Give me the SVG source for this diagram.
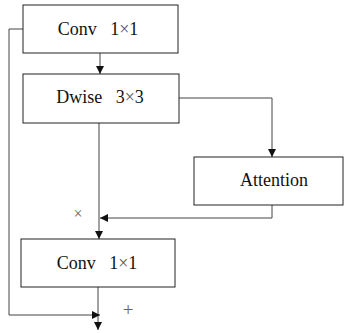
<svg xmlns="http://www.w3.org/2000/svg" width="348" height="333" viewBox="0 0 348 333">
<style>
.box{fill:#fff;stroke:#222;stroke-width:1}
.t{font-family:"Liberation Serif","Times New Roman",serif;font-size:18px;fill:#111;text-anchor:middle}
.x{fill:#555}
.s{font-family:"Liberation Serif","Times New Roman",serif;font-size:16px;fill:#666;text-anchor:middle}
.c{fill:none;stroke:#444;stroke-width:1}
</style>
<defs>
<marker id="a" viewBox="0 0 10 10" refX="10" refY="5" markerWidth="8" markerHeight="8" markerUnits="userSpaceOnUse" orient="auto">
<path d="M0,0L10,5L0,10z" fill="#111"/>
</marker>
</defs>
<g id="connectors">
<path class="c" d="M100,53V74" marker-end="url(#a)"/>
<path class="c" d="M179,98H272V157" marker-end="url(#a)"/>
<path class="c" d="M272,205V218H100" marker-end="url(#a)"/>
<path class="c" d="M99,123V239" marker-end="url(#a)"/>
<path class="c" d="M98,287V330" marker-end="url(#a)"/>
<path class="c" d="M23,29H9V315H100" marker-end="url(#a)"/>
</g>
<g id="conv1"><rect class="box" x="23" y="5" width="155" height="48"/><text class="t" x="98" y="35" xml:space="preserve">Conv   1<tspan class="x">×</tspan>1</text></g>
<g id="dwise"><rect class="box" x="23" y="74" width="156" height="49"/><text class="t" x="100" y="103" xml:space="preserve">Dwise   3<tspan class="x">×</tspan>3</text></g>
<g id="attention"><rect class="box" x="194" y="157" width="149" height="48"/><text class="t" x="274" y="186">Attention</text></g>
<g id="conv2"><rect class="box" x="21" y="239" width="154" height="48"/><text class="t" x="97" y="269" xml:space="preserve">Conv   1<tspan class="x">×</tspan>1</text></g>
<text class="s" x="78" y="219">×</text>
<text class="s" x="128" y="316" style="font-size:19px">+</text>
</svg>
